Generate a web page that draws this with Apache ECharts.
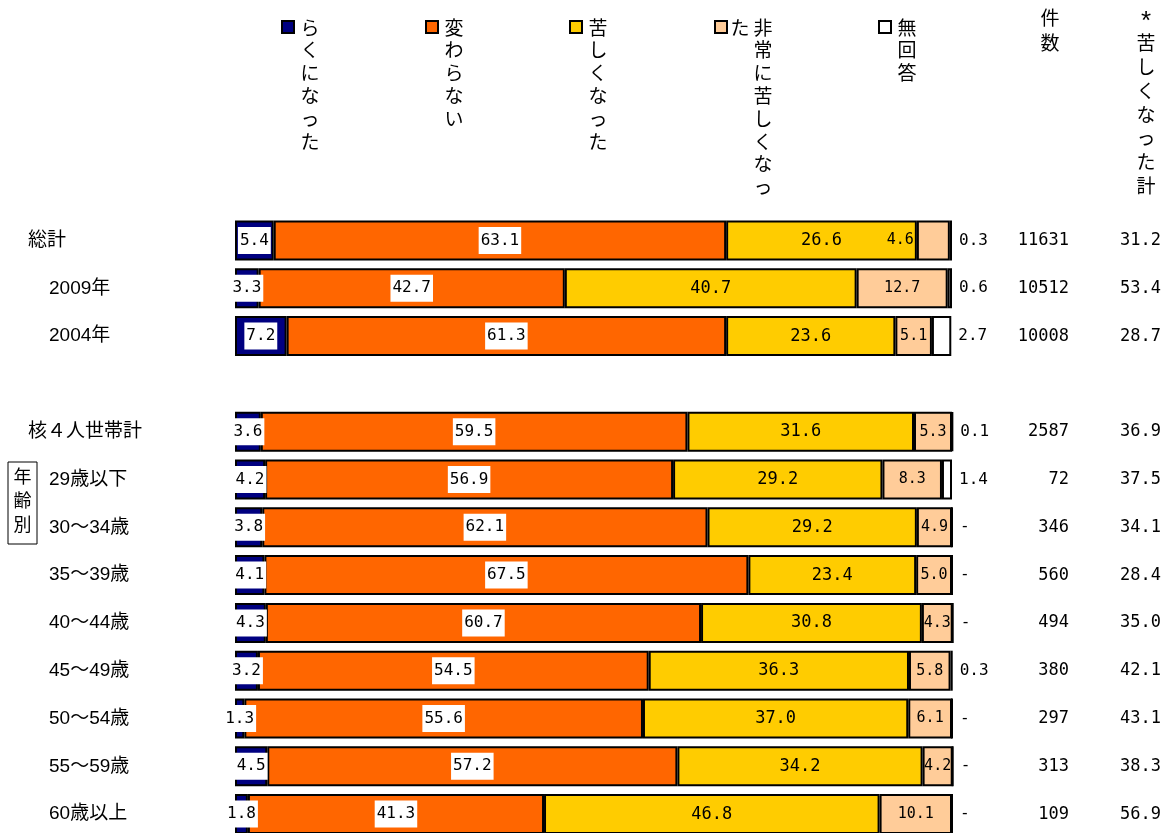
<!DOCTYPE html>
<html>
<head>
<meta charset="utf-8">
<script src="https://cdn.jsdelivr.net/npm/echarts@6/dist/echarts.min.js"></script>
<style>
  html, body { margin: 0; padding: 0; background: #fff; overflow: hidden; }
  #chart { width: 1168px; height: 845px; }
</style>
</head>
<body>
<div id="chart"></div>
<script>
// Row labels (empty string = spacer row between the two blocks)
const categories = ['総計', '2009年', '2004年', '', '核４人世帯計', '29歳以下', '30～34歳', '35～39歳', '40～44歳', '45～49歳', '50～54歳', '55～59歳', '60歳以上'];
const indentedRows = [false, true, true, false, false, true, true, true, true, true, true, true, true];

const seriesNames = ['らくになった', '変わらない', '苦しくなった', '非常に苦しくなった', '無回答'];

// Shares in percent; '-' means no answers in that row
const easier     = [5.4, 3.3, 7.2, null, 3.6, 4.2, 3.8, 4.1, 4.3, 3.2, 1.3, 4.5, 1.8];
const unchanged  = [63.1, 42.7, 61.3, null, 59.5, 56.9, 62.1, 67.5, 60.7, 54.5, 55.6, 57.2, 41.3];
const harder     = [26.6, 40.7, 23.6, null, 31.6, 29.2, 29.2, 23.4, 30.8, 36.3, 37.0, 34.2, 46.8];
const muchHarder = [4.6, 12.7, 5.1, null, 5.3, 8.3, 4.9, 5.0, 4.3, 5.8, 6.1, 4.2, 10.1];
const noAnswer   = [0.3, 0.6, 2.7, null, 0.1, 1.4, '-', '-', '-', 0.3, '-', '-', '-'];

// Right-hand columns
const counts      = ['11631', '10512', '10008', '', '2587', '72', '346', '560', '494', '380', '297', '313', '109'];
const harderTotal = ['31.2', '53.4', '28.7', '', '36.9', '37.5', '34.1', '28.4', '35.0', '42.1', '43.1', '38.3', '56.9'];

const colors = ['#000080', '#FF6600', '#FFCC00', '#FFCC99', '#FFFFFF'];
const FONT = "'Liberation Sans', 'Noto Sans CJK JP', sans-serif";
const NUM_FONT = "'DejaVu Sans Mono', monospace";

const chart = echarts.init(document.getElementById('chart'), null, { renderer: 'canvas' });

const GRID_LEFT = 235, GRID_WIDTH = 717, GRID_TOP = 216.6, GRID_HEIGHT = 621.4;

function labelStyle(extra) {
  return Object.assign({
    show: true,
    position: 'inside',
    color: '#000',
    fontFamily: NUM_FONT,
    fontSize: 16,
    formatter: p => (p.value == null ? '' : Number(p.value).toFixed(1))
  }, extra);
}

const baseItem = { borderColor: '#000', borderWidth: 2 };

const valueSets = [easier, unchanged, harder, muchHarder];
const labelExtras = [
  { backgroundColor: '#fff', padding: [6, 2, 5, 2] },
  { backgroundColor: '#fff', padding: [6, 2, 5, 2] },
  { fontSize: 17 },
  { fontSize: 15 }
];

const series = valueSets.map((vals, k) => ({
  name: seriesNames[k],
  type: 'bar',
  stack: 'total',
  barWidth: 40,
  clip: false,
  itemStyle: Object.assign({ color: colors[k] }, baseItem),
  label: labelStyle(labelExtras[k]),
  data: vals.map((v, i) => {
    // the first row's label sits a little left of its narrow segment
    if (k === 3 && i === 0) return { value: v, label: { offset: [-33, 0] } };
    return v;
  })
}));

series.push({
  name: seriesNames[4],
  type: 'bar',
  stack: 'total',
  barWidth: 40,
  clip: false,
  itemStyle: Object.assign({ color: colors[4] }, baseItem),
  label: labelStyle({
    position: 'right',
    distance: 7,
    formatter: p => {
      const raw = noAnswer[p.dataIndex];
      if (raw == null) return '';
      return raw === '-' ? '-' : Number(raw).toFixed(1);
    }
  }),
  data: noAnswer.map(v => (v === '-' ? 0 : v))
});

// Header graphics: vertical legend entries and column titles
const legendX = [282, 426, 570, 715, 879];
const graphics = [];
const LINE_H = 22.8;
seriesNames.forEach((name, k) => {
  graphics.push({
    type: 'rect',
    shape: { x: legendX[k], y: 21, width: 12, height: 12 },
    style: { fill: colors[k], stroke: '#000', lineWidth: 2 }
  });
  const chars = Array.from(name);
  const firstCol = chars.slice(0, 8);
  const rest = chars.slice(8);
  const colX = legendX[k] + (rest.length ? 48 : 28);
  graphics.push({
    type: 'text',
    x: colX, y: 18,
    style: {
      text: firstCol.join('\n'), fill: '#000',
      font: '19px ' + FONT, lineHeight: LINE_H,
      align: 'center', verticalAlign: 'top'
    }
  });
  if (rest.length) {
    graphics.push({
      type: 'text',
      x: colX - 23, y: 18,
      style: {
        text: rest.join('\n'), fill: '#000',
        font: '19px ' + FONT, lineHeight: LINE_H,
        align: 'center', verticalAlign: 'top'
      }
    });
  }
});

graphics.push({
  type: 'text', x: 1050, y: 7,
  style: { text: '件\n数', fill: '#000', font: '19px ' + FONT, lineHeight: 25, align: 'center', verticalAlign: 'top' }
});
graphics.push({
  type: 'text', x: 1146, y: 9,
  style: { text: '*', fill: '#000', font: '26px ' + FONT, align: 'center', verticalAlign: 'top' }
});
graphics.push({
  type: 'text', x: 1146, y: 33,
  style: { text: Array.from('苦しくなった計').join('\n'), fill: '#000', font: '19px ' + FONT, lineHeight: 23.8, align: 'center', verticalAlign: 'top' }
});

// Box marking the age-group rows
graphics.push({
  type: 'rect',
  shape: { x: 8, y: 462, width: 29, height: 82 },
  style: { fill: '#fff', stroke: '#000', lineWidth: 1 }
});
graphics.push({
  type: 'text', x: 22.5, y: 466,
  style: { text: '年\n齢\n別', fill: '#000', font: '18px ' + FONT, lineHeight: 24, align: 'center', verticalAlign: 'top' }
});

const option = {
  animation: false,
  backgroundColor: '#fff',
  textStyle: { fontFamily: FONT },
  grid: { left: GRID_LEFT, top: GRID_TOP, width: GRID_WIDTH, height: GRID_HEIGHT, containLabel: false },
  xAxis: { type: 'value', min: 0, max: 100, show: false },
  yAxis: [
    {
      type: 'category',
      data: categories,
      inverse: true,
      axisLine: { show: false },
      axisTick: { show: false },
      splitLine: { show: false },
      axisLabel: {
        margin: GRID_LEFT - 28,
        align: 'left',
        color: '#000',
        fontSize: 19,
        fontFamily: FONT,
        formatter: (v, i) => (indentedRows[i] ? '{ind|' + v + '}' : '{top|' + v + '}'),
        rich: {
          ind: { padding: [0, 0, 0, 21], fontSize: 19, color: '#000', fontFamily: FONT },
          top: { fontSize: 19, color: '#000', fontFamily: FONT }
        }
      }
    },
    {
      type: 'category',
      data: categories,
      inverse: true,
      position: 'right',
      offset: 1069 - (GRID_LEFT + GRID_WIDTH),
      axisLine: { show: false },
      axisTick: { show: false },
      axisLabel: {
        margin: 0, align: 'right', color: '#000', fontSize: 17, fontFamily: NUM_FONT,
        formatter: (v, i) => counts[i]
      }
    },
    {
      type: 'category',
      data: categories,
      inverse: true,
      position: 'right',
      offset: 1161 - (GRID_LEFT + GRID_WIDTH),
      axisLine: { show: false },
      axisTick: { show: false },
      axisLabel: {
        margin: 0, align: 'right', color: '#000', fontSize: 17, fontFamily: NUM_FONT,
        formatter: (v, i) => harderTotal[i]
      }
    }
  ],
  series: series,
  graphic: graphics
};

chart.setOption(option);
</script>
</body>
</html>
